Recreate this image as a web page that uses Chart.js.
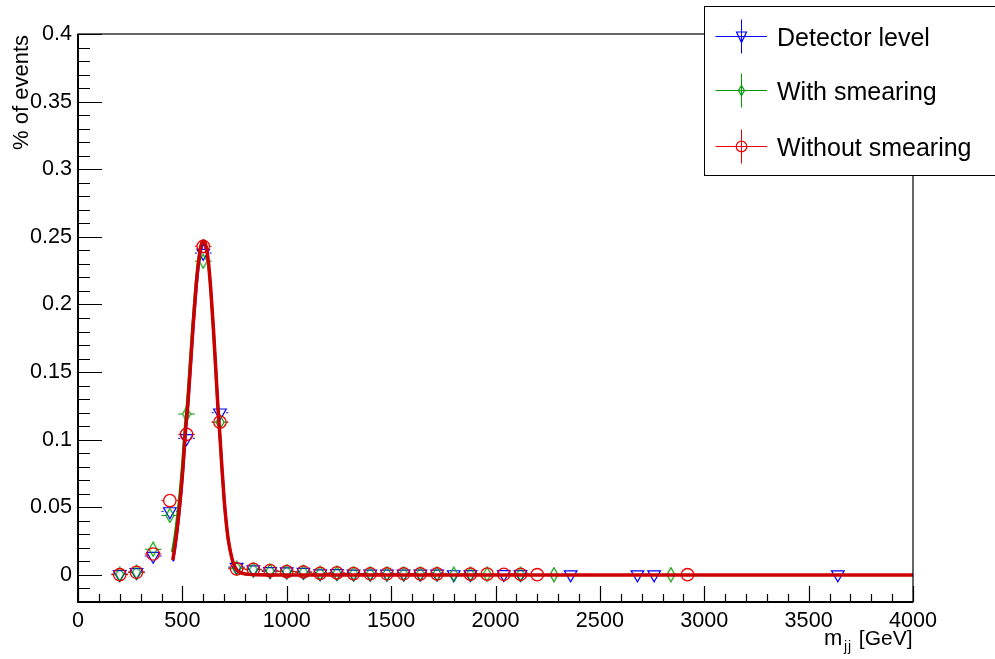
<!DOCTYPE html>
<html>
<head>
<meta charset="utf-8">
<script src="https://cdn.jsdelivr.net/npm/chart.js@4.4.0/dist/chart.umd.min.js"></script>
<style>
  html, body { margin: 0; padding: 0; background: #fff; }
</style>
</head>
<body>
<canvas id="c" width="995" height="659"></canvas>
<script>
const FONT = "'Liberation Sans', Arial, Helvetica, sans-serif";
const BIN_HALF = 40; // 80 GeV bins

// histogram points (bin centre, % of events)
const detX = [200, 280, 360, 440, 520, 600, 680, 760, 840, 920, 1000, 1080, 1160, 1240, 1320, 1400, 1480, 1560, 1640, 1720, 1800, 1880, 2040, 2120, 2360, 2680, 2760, 3640];
const detY = [0.0005, 0.002, 0.014, 0.047, 0.101, 0.238, 0.120, 0.0058, 0.0040, 0.0027, 0.0026, 0.0021, 0.0010, 0.0013, 0.0009, 0.0008, 0.0008, 0.0008, 0.0008, 0.0008, 0.0004, 0.0005, 0.0005, 0.0005, 0.0003, 0.0003, 0.0003, 0.0003];

const smearX = [200, 280, 360, 440, 520, 600, 680, 760, 840, 920, 1000, 1080, 1160, 1240, 1320, 1400, 1480, 1560, 1640, 1720, 1800, 1880, 1960, 2120, 2280, 2840];
const smearY = [0.0005, 0.002, 0.019, 0.044, 0.119, 0.232, 0.113, 0.0050, 0.0040, 0.0030, 0.0025, 0.0020, 0.0012, 0.0012, 0.0010, 0.0009, 0.0009, 0.0009, 0.0008, 0.0008, 0.0006, 0.0006, 0.0005, 0.0004, 0.0002, 0.0002];

const noSmearX = [200, 280, 360, 440, 520, 600, 680, 760, 840, 920, 1000, 1080, 1160, 1240, 1320, 1400, 1480, 1560, 1640, 1720, 1880, 1960, 2040, 2120, 2200, 2920];
const noSmearY = [0.0002, 0.002, 0.0155, 0.055, 0.104, 0.243, 0.113, 0.0045, 0.0042, 0.0032, 0.0025, 0.0022, 0.0012, 0.0015, 0.0010, 0.0009, 0.0009, 0.0009, 0.0008, 0.0008, 0.0006, 0.0006, 0.0005, 0.0005, 0.0002, 0.0002];

// fitted curves
const fitDetX = [456, 467, 477, 492, 505, 516, 529, 542, 554, 567, 579, 591, 601, 613, 626, 639, 651, 662, 672, 683, 692, 702, 712, 722, 739, 752, 767, 782, 802, 850, 1000, 4000];
const fitDetY = [0.010, 0.021, 0.033, 0.055, 0.079, 0.104, 0.127, 0.157, 0.184, 0.210, 0.229, 0.241, 0.244, 0.241, 0.229, 0.207, 0.180, 0.151, 0.124, 0.099, 0.077, 0.055, 0.038, 0.025, 0.012, 0.0062, 0.003, 0.0015, 0.0006, 0.0001, 0, 0];

const fitSmearX = [450, 461, 471, 486, 499, 510, 523, 536, 549, 562, 575, 588, 599, 611, 623, 635, 647, 658, 668, 679, 688, 698, 708, 718, 735, 748, 763, 778, 798, 850, 1000, 4000];
const fitSmearY = [0.017, 0.027, 0.039, 0.060, 0.083, 0.107, 0.130, 0.159, 0.187, 0.213, 0.232, 0.243, 0.246, 0.243, 0.231, 0.209, 0.181, 0.152, 0.125, 0.100, 0.078, 0.056, 0.039, 0.026, 0.0125, 0.0065, 0.003, 0.0015, 0.0006, 0.0001, 0, 0];

const fitNoSmearX = [454, 465, 475, 490, 503, 514, 527, 540, 552, 565, 577, 590, 601, 612, 625, 637, 649, 660, 670, 681, 690, 700, 710, 720, 737, 750, 765, 780, 800, 850, 1000, 4000];
const fitNoSmearY = [0.011, 0.022, 0.034, 0.056, 0.080, 0.105, 0.128, 0.158, 0.186, 0.212, 0.231, 0.244, 0.247, 0.244, 0.231, 0.209, 0.181, 0.152, 0.125, 0.100, 0.078, 0.056, 0.039, 0.026, 0.0125, 0.0065, 0.003, 0.0018, 0.0008, 0.0002, 0, 0];

const legendLabels = ["Detector level", "With smearing", "Without smearing"];

const BLUE = "#0000ff", GREEN = "#009900", RED = "#ee0000", RED_FIT = "#cc0000";

function pts(xs, ys) { return xs.map((x, i) => ({ x: x, y: ys[i] })); }

// thin open diamond like ROOT marker 27
function diamondImage(color, w, h) {
  const c = document.createElement("canvas");
  c.width = w + 2; c.height = h + 2;
  const g = c.getContext("2d");
  g.strokeStyle = color; g.lineWidth = 1.2;
  g.beginPath();
  g.moveTo(c.width / 2, 1);
  g.lineTo(c.width - 1, c.height / 2);
  g.lineTo(c.width / 2, c.height - 1);
  g.lineTo(1, c.height / 2);
  g.closePath();
  g.stroke();
  return c;
}

const markerSets = [
  { xs: detX, ys: detY, color: BLUE, gap: 6.3 },
  { xs: smearX, ys: smearY, color: GREEN, gap: 4 },
  { xs: noSmearX, ys: noSmearY, color: RED, gap: 6.3 }
];

const rootFrame = {
  id: "rootFrame",
  beforeDatasetsDraw(chart) {
    const ctx = chart.ctx, xs = chart.scales.x, ys = chart.scales.y;
    ctx.save();
    ctx.lineWidth = 1;
    markerSets.forEach(s => {
      ctx.strokeStyle = s.color;
      s.xs.forEach((x, i) => {
        const px = xs.getPixelForValue(x);
        const py = ys.getPixelForValue(s.ys[i]);
        ctx.beginPath();
        ctx.moveTo(xs.getPixelForValue(x - BIN_HALF), py);
        ctx.lineTo(px - s.gap, py);
        ctx.moveTo(px + s.gap, py);
        ctx.lineTo(xs.getPixelForValue(x + BIN_HALF), py);
        ctx.stroke();
      });
    });
    ctx.restore();
  },
  afterDraw(chart) {
    const ctx = chart.ctx, xs = chart.scales.x, ys = chart.scales.y;
    const { left, right, top, bottom } = chart.chartArea;
    ctx.save();
    ctx.strokeStyle = "#000";

    // frame
    ctx.lineWidth = 1.2;
    ctx.strokeRect(left, top, right - left, bottom - top);
    ctx.lineWidth = 2;
    ctx.beginPath();
    ctx.moveTo(left, top); ctx.lineTo(left, bottom); ctx.lineTo(right, bottom);
    ctx.stroke();

    // y ticks, pointing inwards
    ctx.lineWidth = 1.2;
    ctx.beginPath();
    for (let i = -2; i <= 40; i++) {
      const py = Math.round(ys.getPixelForValue(i / 100)) + 0.5;
      const len = (i % 5 === 0) ? 24 : 12;
      ctx.moveTo(left, py); ctx.lineTo(left + len, py);
    }
    // x ticks
    for (let i = 0; i <= 40; i++) {
      const px = Math.round(xs.getPixelForValue(i * 100)) + 0.5;
      const len = (i % 5 === 0) ? 16 : 8;
      ctx.moveTo(px, bottom); ctx.lineTo(px, bottom - len);
    }
    ctx.stroke();

    // axis titles
    ctx.fillStyle = "#000";
    ctx.save();
    ctx.translate(28, top + 1);
    ctx.rotate(-Math.PI / 2);
    ctx.font = "22px " + FONT;
    ctx.textAlign = "right";
    ctx.textBaseline = "alphabetic";
    ctx.fillText("% of events", 0, 0);
    ctx.restore();

    ctx.textBaseline = "alphabetic";
    ctx.font = "21px " + FONT;
    ctx.textAlign = "right";
    ctx.fillText("[GeV]", right - 0.5, 645);
    ctx.font = "22px " + FONT;
    ctx.textAlign = "left";
    ctx.fillText("m", 824, 645);
    ctx.font = "14px " + FONT;
    ctx.letterSpacing = "1px";
    ctx.fillText("jj", 844, 651);
    ctx.letterSpacing = "0px";

    // legend
    const lx = 704.5, ly = 6.5;
    ctx.fillStyle = "#fff";
    ctx.fillRect(lx, ly, 300, 169);
    ctx.lineWidth = 1;
    ctx.strokeStyle = "#000";
    ctx.strokeRect(lx, ly, 300, 169);
    const rows = [36.5, 90.5, 146.5];
    const colors = [BLUE, GREEN, RED];
    const mx = 741.5;
    rows.forEach((ry, k) => {
      ctx.strokeStyle = colors[k];
      ctx.lineWidth = 1;
      ctx.beginPath();
      ctx.moveTo(715.5, ry); ctx.lineTo(767, ry);
      ctx.moveTo(mx, ry - 17); ctx.lineTo(mx, ry + 17);
      ctx.stroke();
      ctx.lineWidth = 1.2;
      ctx.beginPath();
      if (k === 0) {
        ctx.moveTo(mx - 5, ry - 4.5); ctx.lineTo(mx + 5, ry - 4.5); ctx.lineTo(mx, ry + 6); ctx.closePath();
      } else if (k === 1) {
        ctx.moveTo(mx, ry - 5); ctx.lineTo(mx + 3, ry); ctx.lineTo(mx, ry + 5); ctx.lineTo(mx - 3, ry); ctx.closePath();
      } else {
        ctx.arc(mx, ry, 5.3, 0, Math.PI * 2);
      }
      ctx.stroke();
      ctx.fillStyle = "#000";
      ctx.font = "25px " + FONT;
      ctx.textAlign = "left";
      ctx.fillText(legendLabels[k], 777, ry + 9);
    });
    ctx.restore();
  }
};

const open = "rgba(0,0,0,0)";

new Chart(document.getElementById("c"), {
  type: "scatter",
  data: {
    datasets: [
      { label: "det", data: pts(detX, detY), order: 6, pointStyle: "triangle", rotation: 180, pointRadius: 7.3, borderWidth: 1.2, borderColor: BLUE, backgroundColor: open },
      { label: "det fit", data: pts(fitDetX, fitDetY), order: 5, showLine: true, pointRadius: 0, borderColor: BLUE, borderWidth: 2, cubicInterpolationMode: "monotone" },
      { label: "smear", data: pts(smearX, smearY), order: 4, pointStyle: diamondImage(GREEN, 8, 14), pointRadius: 7, borderColor: GREEN, backgroundColor: open },
      { label: "smear fit", data: pts(fitSmearX, fitSmearY), order: 3, showLine: true, pointRadius: 0, borderColor: GREEN, borderWidth: 2, cubicInterpolationMode: "monotone" },
      { label: "nosmear", data: pts(noSmearX, noSmearY), order: 2, pointStyle: "circle", pointRadius: 6.2, borderWidth: 1.3, borderColor: RED, backgroundColor: open },
      { label: "nosmear fit", data: pts(fitNoSmearX, fitNoSmearY), order: 1, showLine: true, pointRadius: 0, borderColor: RED_FIT, borderWidth: 3.5, cubicInterpolationMode: "monotone" }
    ]
  },
  options: {
    responsive: false,
    devicePixelRatio: 1,
    animation: false,
    events: [],
    layout: { padding: { top: 34, right: 82, left: 0, bottom: 0 } },
    plugins: { legend: { display: false }, tooltip: { enabled: false } },
    scales: {
      x: {
        type: "linear", min: 0, max: 4000,
        grid: { display: false, drawTicks: false },
        border: { display: false },
        ticks: {
          stepSize: 500, autoSkip: false, maxRotation: 0, padding: 6, color: "#000", font: { family: FONT, size: 21.6 },
          callback: v => String(v)
        },
        afterFit: s => { s.height = 57; }
      },
      y: {
        type: "linear", min: -0.02, max: 0.4,
        grid: { display: false, drawTicks: false },
        border: { display: false },
        ticks: {
          stepSize: 0.05, padding: 6, color: "#000", font: { family: FONT, size: 21.6 },
          callback: v => String(Math.round(v * 100) / 100)
        },
        afterBuildTicks: s => {
          s.ticks = s.ticks.filter(t => Math.abs(t.value / 0.05 - Math.round(t.value / 0.05)) < 1e-6);
        },
        afterFit: s => { s.width = 78; }
      }
    }
  },
  plugins: [rootFrame]
});
</script>
</body>
</html>
